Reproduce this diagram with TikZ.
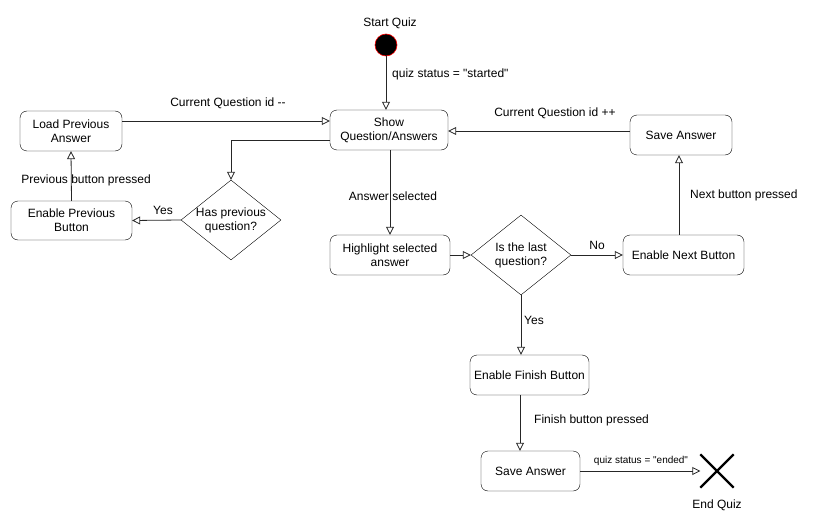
\documentclass[tikz,border=0pt]{standalone}
\usepackage{fontspec}
\setmainfont{Liberation Sans}[Ligatures=TeXOff]
\usetikzlibrary{arrows.meta,shapes.geometric}
\begin{document}
\begin{tikzpicture}[x=1pt,y=-1pt,
  font=\fontsize{12}{14}\selectfont,
  state/.style={draw=black,rounded corners=7pt,fill=white,align=center,inner sep=0pt},
  decision/.style={draw=black,diamond,fill=white,inner sep=0pt,minimum width=100pt,minimum height=80pt},
  flow/.style={draw=black!85,line width=0.8pt,-{Triangle[open,length=8pt,width=8pt]}},
  lbl/.style={inner sep=0pt,align=center}]
\useasboundingbox (0,0) rectangle (819,532);

% start and end markers
\node[circle,fill=black,draw=red,line width=0.6pt,minimum size=22pt,inner sep=0pt] (start) at (386,45) {};
\node[lbl] (startlbl) at (390,23) {Start Quiz};
\node[minimum size=33pt,inner sep=0pt] (end) at (717,471) {};
\draw[line width=2.2pt] (end.north west) -- (end.south east) (end.north east) -- (end.south west);
\node[lbl] (endlbl) at (717,505) {End Quiz};

% states
\node[state,minimum width=118pt,minimum height=40pt] (show) at (389,130) {Show\\Question/Answers};
\node[state,minimum width=102pt,minimum height=40pt] (load) at (71,131) {Load Previous\\Answer};
\node[state,minimum width=121pt,minimum height=39pt] (enprev) at (71.5,220.5) {Enable Previous\\Button};
\node[state,minimum width=120pt,minimum height=40pt] (highlight) at (390,255) {Highlight selected\\answer};
\node[state,minimum width=121pt,minimum height=40pt] (ennext) at (683.5,255) {Enable Next Button};
\node[state,minimum width=102pt,minimum height=40pt] (save1) at (681,135) {Save Answer};
\node[state,minimum width=119pt,minimum height=40pt] (enfin) at (529.5,375) {Enable Finish Button};
\node[state,minimum width=99pt,minimum height=40pt] (save2) at (530.5,471) {Save Answer};

% decisions (shape and text kept separate so the diamond keeps its size)
\node[decision] (hasprev) at (231,220) {};
\node[lbl] (hasprevtxt) at (231,220) {Has previous\\question?};
\node[decision] (islast) at (521,255) {};
\node[lbl] (islasttxt) at (521,255) {Is the last\\question?};

% transitions
\draw[flow] (start) -- (show.north -| start);
\node[lbl,anchor=west] (l1) at (392,74) {quiz status = "started"};

\draw[flow] (load.east |- 0,121) -- (show.west |- 0,121);
\node[lbl] (l2) at (228,103) {Current Question id --};

\draw[flow] (show.west |- 0,140) -| (hasprev.north);

\draw[flow] (hasprev.west) -- (enprev.east);
\node[lbl] (l3) at (163,210) {Yes};

\draw[flow] (enprev.north) -- (load.south);
\node[lbl] (l4) at (86,180) {Previous button pressed};

\draw[flow] (show.south -| 390,0) -- (highlight.north);
\node[lbl] (l5) at (393,196) {Answer selected};

\draw[flow] (highlight.east) -- (islast.west);

\draw[flow] (islast.east) -- (ennext.west);
\node[lbl] (l6) at (597,245) {No};

\draw[flow] (ennext.north -| 679,0) -- (save1.south -| 679,0);
\node[lbl,anchor=west] (l7) at (690,195) {Next button pressed};

\draw[flow] (save1.west |- 0,131) -- (show.east |- 0,131);
\node[lbl] (l8) at (555,113) {Current Question id ++};

\draw[flow] (islast.south) -- (islast.south |- enfin.north);
\node[lbl] (l9) at (534,320) {Yes};

\draw[flow] (enfin.south -| 520,0) -- (save2.north -| 520,0);
\node[lbl,anchor=west] (l10) at (534,420) {Finish button pressed};

\draw[flow] (save2.east) -- (end.west);
\node[lbl,font=\fontsize{10}{12}\selectfont] (l11) at (641,461) {quiz status = "ended"};
\end{tikzpicture}
\end{document}
